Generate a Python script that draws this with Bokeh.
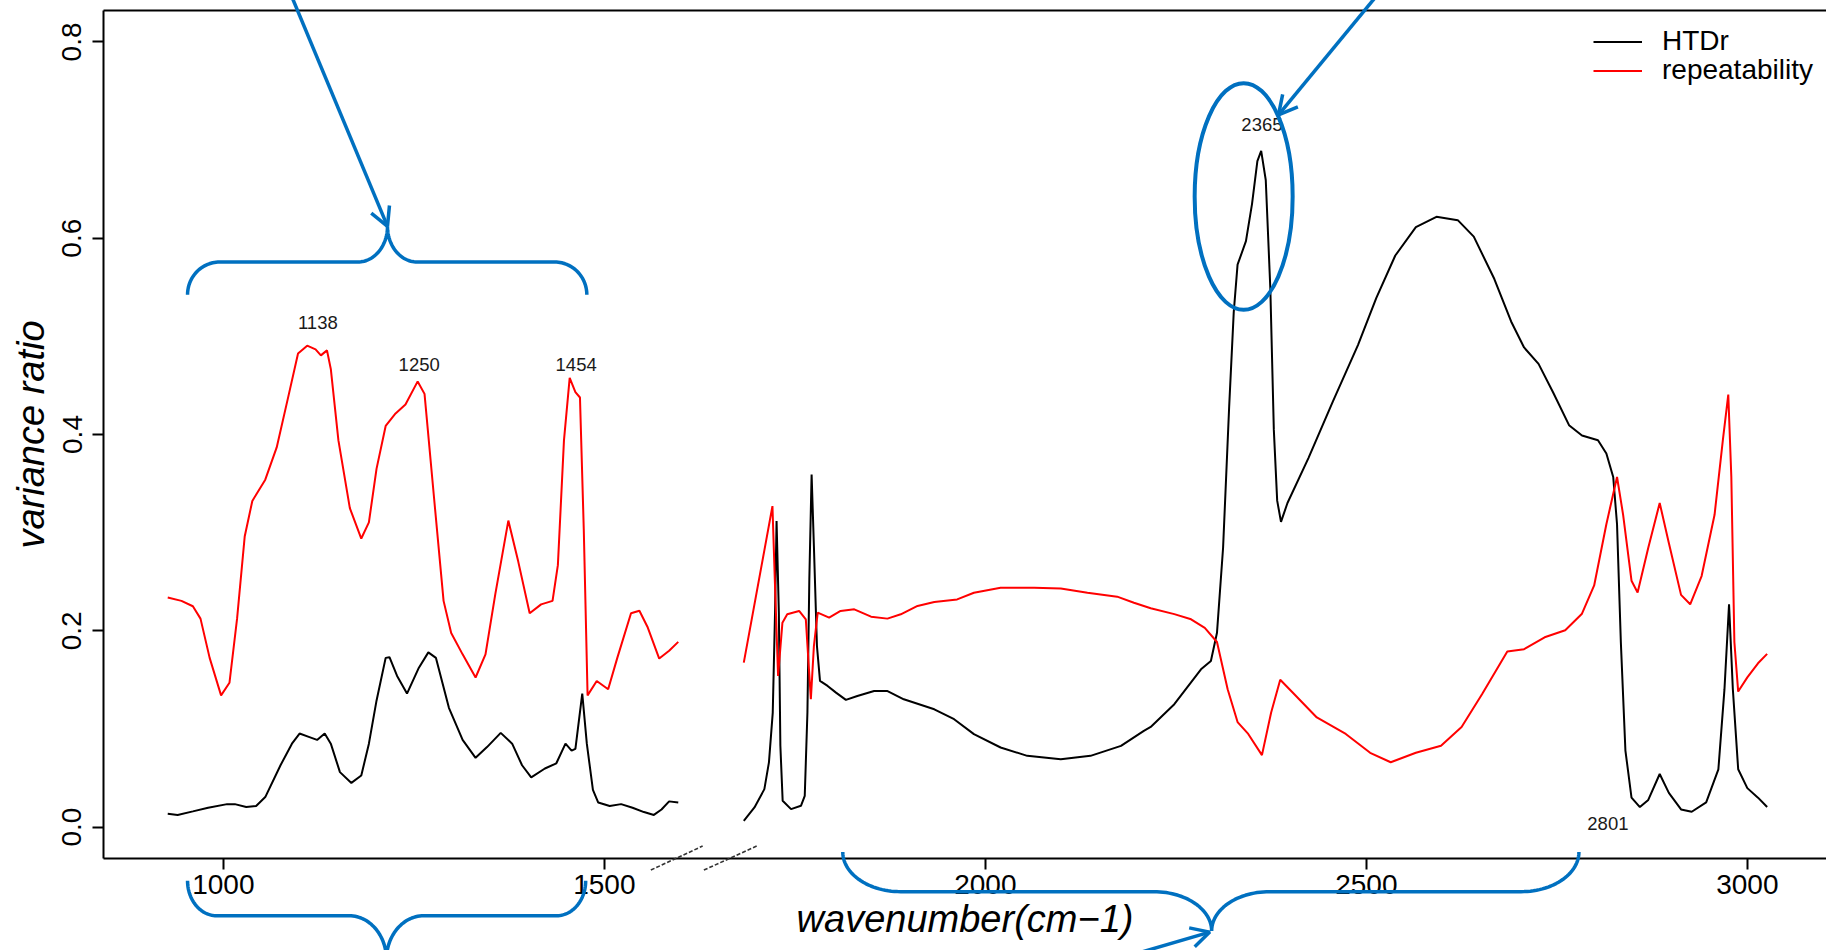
import numpy as np
from bokeh.plotting import figure
from bokeh.models import (Range1d, LinearAxis, FixedTicker, Legend, LegendItem,
                          PrintfTickFormatter)
from bokeh.embed import file_html
from bokeh.resources import INLINE
from bokeh.core.properties import value

nan = float("nan")

# ---------------- data ----------------
htdr_wn = [927, 940, 960, 980, 1005, 1015, 1030, 1043, 1055, 1075, 1090, 1100, 1113, 1123,
           1133, 1141, 1153, 1168, 1181, 1191, 1201, 1213, 1218, 1228, 1241, 1256, 1269, 1279,
           1296, 1314, 1331, 1346, 1364, 1379, 1392, 1404, 1422, 1437, 1449, 1457, 1462, 1471,
           1477, 1485, 1492, 1507, 1522, 1537, 1552, 1565, 1575, 1585, 1597,
           1640,
           1683, 1697, 1710, 1716, 1721, 1724, 1726, 1729, 1731, 1734, 1745, 1758, 1763, 1766.5,
           1769, 1772, 1775, 1779, 1783, 1793, 1804, 1817, 1832, 1854, 1871, 1893, 1933, 1959,
           1985, 2020, 2055, 2099, 2138, 2178, 2208, 2217, 2248, 2283, 2296, 2304, 2312, 2320,
           2326, 2331, 2342, 2350, 2357, 2362, 2368, 2374, 2378.6, 2383, 2388, 2396.5, 2424,
           2456, 2489, 2513, 2538, 2565, 2592, 2620, 2641, 2668, 2690, 2707, 2726, 2745, 2766,
           2783, 2804, 2815, 2824, 2829, 2834, 2840, 2848, 2859, 2870, 2885, 2897, 2913, 2927,
           2946, 2962, 2970, 2976, 2981, 2988, 3000, 3014, 3026]
htdr_val = [0.0135, 0.0124, 0.016, 0.0197, 0.0234, 0.0234, 0.0204, 0.0215, 0.0306, 0.063, 0.085,
            0.0953, 0.0917, 0.0888, 0.0953, 0.085, 0.056, 0.045, 0.0525, 0.085, 0.1288, 0.1724,
            0.1731, 0.154, 0.136, 0.1615, 0.178, 0.1724, 0.1215, 0.0888, 0.0706, 0.0815, 0.096,
            0.085, 0.063, 0.0506, 0.0597, 0.065, 0.085, 0.0779, 0.0797, 0.1361, 0.085, 0.0379,
            0.025, 0.0215, 0.0234, 0.0197, 0.0153, 0.0124, 0.0179, 0.0262, 0.0251,
            nan,
            0.0064, 0.0200, 0.0387, 0.066, 0.1167, 0.2185, 0.3118, 0.2185, 0.0828, 0.0268,
            0.0183, 0.0217, 0.0319, 0.1167, 0.2524, 0.3592, 0.2863, 0.1845, 0.1489, 0.1438,
            0.137, 0.1296, 0.1336, 0.1387, 0.1387, 0.1302, 0.12, 0.1099, 0.0947, 0.0811, 0.0726,
            0.0692, 0.0726, 0.0828, 0.0981, 0.102, 0.1252, 0.1608, 0.1693, 0.198, 0.2846,
            0.4287, 0.5248, 0.573, 0.597, 0.635, 0.6785, 0.689, 0.6593, 0.5488, 0.4047, 0.3326,
            0.311, 0.3302, 0.376, 0.4335, 0.4911, 0.539, 0.5824, 0.6112, 0.6218, 0.6184, 0.6016,
            0.5584, 0.5152, 0.4887, 0.472, 0.4431, 0.4095, 0.3989, 0.3941, 0.3807, 0.3567,
            0.3086, 0.1886, 0.078, 0.0301, 0.0204, 0.0277, 0.0541, 0.0349, 0.018, 0.0156,
            0.0252, 0.0589, 0.1405, 0.227, 0.1405, 0.0589, 0.0397, 0.03, 0.0204]

rep_wn = [927, 945, 960, 970, 982, 997, 1008, 1018, 1028, 1038, 1055, 1070, 1085, 1098, 1110,
          1121, 1128, 1136, 1141, 1151, 1166, 1181, 1191, 1201, 1213, 1226, 1239, 1255, 1264,
          1276, 1289, 1299, 1314, 1331, 1344, 1357, 1374, 1387, 1402, 1417, 1432, 1439, 1447,
          1454.5, 1462, 1468, 1473, 1478, 1490, 1505, 1517, 1535, 1546, 1557, 1572, 1585, 1597,
          1640,
          1683, 1720.6, 1723.7, 1728, 1733.7, 1740, 1755.6, 1764.4, 1771, 1775, 1780, 1795,
          1810, 1828, 1850, 1871.5, 1889, 1911, 1933, 1963, 1985, 2020, 2064, 2099, 2134, 2173,
          2195, 2217, 2248, 2270, 2288, 2304, 2318, 2331, 2345, 2363, 2375, 2387, 2402, 2435,
          2473, 2505, 2532, 2565, 2598, 2625, 2652, 2685, 2707, 2734, 2761, 2783, 2799, 2815,
          2829, 2837, 2848, 2856, 2870, 2885, 2897, 2913, 2925, 2940, 2957, 2968, 2975, 2979,
          2983, 2988, 3000, 3014, 3026]
rep_val = [0.234, 0.2305, 0.225, 0.2124, 0.1724, 0.1342, 0.147, 0.2124, 0.296, 0.3323, 0.354,
           0.3868, 0.4378, 0.4825, 0.4905, 0.4868, 0.4806, 0.4857, 0.4668, 0.394, 0.325, 0.294,
           0.3105, 0.365, 0.4087, 0.4214, 0.4305, 0.4541, 0.4414, 0.3396, 0.2305, 0.1978, 0.176,
           0.1524, 0.176, 0.2378, 0.3123, 0.2705, 0.2178, 0.2269, 0.2305, 0.2669, 0.394, 0.4577,
           0.4432, 0.4377, 0.3032, 0.1342, 0.1488, 0.1404, 0.1724, 0.2178, 0.2204, 0.2033,
           0.1717, 0.1796, 0.1887,
           nan,
           0.1676, 0.327, 0.2524, 0.154, 0.2083, 0.2168, 0.2202, 0.2117, 0.1303, 0.1845, 0.2185,
           0.2134, 0.2202, 0.2219, 0.2144, 0.2124, 0.2168, 0.2253, 0.2293, 0.232, 0.2388, 0.2439,
           0.2439, 0.2432, 0.2388, 0.2348, 0.2286, 0.223, 0.217, 0.2117, 0.203, 0.1886, 0.1405,
           0.107, 0.0949, 0.0733, 0.1165, 0.1501, 0.1381, 0.1117, 0.0949, 0.0757, 0.0661,
           0.0757, 0.0829, 0.102, 0.1357, 0.179, 0.1813, 0.1934, 0.2006, 0.2174, 0.2462, 0.3086,
           0.3567, 0.3182, 0.251, 0.239, 0.2846, 0.3302, 0.2894, 0.2366, 0.227, 0.2558, 0.3182,
           0.3951, 0.4407, 0.3567, 0.1886, 0.1381, 0.1525, 0.1669, 0.1765]

peak_text = ["1138", "1250", "1454", "2365", "2801"]
peak_x = [1124, 1257, 1463, 2363, 2817]
peak_y = [0.514, 0.471, 0.471, 0.716, 0.004]

x_ticks = [1000, 1500, 2000, 2500, 3000]
y_ticks = [0.0, 0.2, 0.4, 0.6, 0.8]
series_names = ["HTDr", "repeatability"]

# ---------------- styling ----------------
FONT = "Liberation Sans"
BLUE = "#0070C0"
W, H = 1826, 950
BL, BT, BB = 103, 10, 92
X0, X1 = 842.7, 3103.9
Y0, Y1 = -0.032, 0.832

p = figure(width=W, height=H, output_backend="svg", toolbar_location=None,
           x_range=Range1d(X0, X1), y_range=Range1d(Y0, Y1),
           min_border_left=BL, min_border_right=0, min_border_top=BT, min_border_bottom=BB,
           background_fill_color="white", border_fill_color="white")
p.outline_line_color = None
p.xgrid.visible = False
p.ygrid.visible = False

for ax in (p.xaxis[0], p.yaxis[0]):
    ax.axis_line_width = 2
    ax.major_tick_line_width = 2
    ax.major_tick_out = 11
    ax.major_tick_in = 0
    ax.minor_tick_line_color = None
    ax.major_label_text_font = FONT
    ax.major_label_text_font_size = "28px"
    ax.major_label_text_color = "black"
    ax.axis_label_text_font = FONT
    ax.axis_label_text_font_style = "italic"
    ax.axis_label_text_font_size = "38px"
    ax.axis_label_text_color = "black"

p.xaxis.ticker = FixedTicker(ticks=x_ticks)
p.yaxis.ticker = FixedTicker(ticks=y_ticks)
p.yaxis.formatter = PrintfTickFormatter(format="%.1f")
p.yaxis.major_label_orientation = "vertical"
p.xaxis.axis_label = "wavenumber(cm\u22121)"
p.yaxis.axis_label = "variance ratio"
p.xaxis.major_label_standoff = 5
p.xaxis.axis_label_standoff = 1
p.yaxis.major_label_standoff = 11
p.yaxis.axis_label_standoff = 8

top_axis = LinearAxis(ticker=FixedTicker(ticks=[]), axis_line_width=2,
                      major_tick_out=0, major_tick_in=0, minor_tick_line_color=None,
                      major_label_standoff=0, axis_label=None)
p.add_layout(top_axis, "above")

r_black = p.line(htdr_wn, htdr_val, line_color="black", line_width=2)
r_red = p.line(rep_wn, rep_val, line_color="red", line_width=2)

p.text(x=peak_x, y=peak_y, text=peak_text, text_align="center", text_baseline="middle",
       text_font=value(FONT), text_font_size=value("18.5px"), text_color="#1a1a1a")

legend_style = dict(orientation="vertical", border_line_color=None, background_fill_alpha=0,
                    padding=0, margin=0, glyph_width=49, glyph_height=29, label_height=29,
                    label_standoff=20, label_text_font=FONT, label_text_font_size="28px",
                    label_text_color="black")
legend1 = Legend(items=[LegendItem(label=series_names[0], renderers=[r_black])],
                 location=(1490, 801), **legend_style)
legend2 = Legend(items=[LegendItem(label=series_names[1], renderers=[r_red])],
                 location=(1490, 772), **legend_style)
p.add_layout(legend1)
p.add_layout(legend2)

# ---------------- blue hand-drawn style annotations ----------------
SX = (W - BL) / (X1 - X0)          # px per wavenumber unit
SY = (H - BT - BB) / (Y1 - Y0)     # px per variance-ratio unit

def brace(xl, xr, xt, ye, yb, yt, rx1, rx2, n=30):
    t = np.linspace(0, np.pi / 2, n)
    x1 = xl + rx1 - rx1 * np.cos(t); y1 = ye + (yb - ye) * np.sin(t)
    x2 = xt - rx2 + rx2 * np.sin(t); y2 = yt + (yb - yt) * np.cos(t)
    x3 = xt + rx2 - rx2 * np.cos(t); y3 = yt + (yb - yt) * np.sin(t)
    x4 = xr - rx1 + rx1 * np.sin(t); y4 = ye + (yb - ye) * np.cos(t)
    return np.concatenate([x1, x2, x3, x4]), np.concatenate([y1, y2, y3, y4])

for args in [(953, 1477, 1215.4, 0.5424, 0.5757, 0.612, 42, 39),
             (953, 1475.5, 1214, -0.0547, -0.0903, -0.135, 38, 49),
             (1812.9, 2779, 2297, -0.0254, -0.0658, -0.1058, 76, 76)]:
    bx, by = brace(*args)
    p.line(bx, by, line_color=BLUE, line_width=3.5, level="overlay")

p.ellipse(x=[2339], y=[0.6425], width=128.6, height=0.231, fill_color=None,
          line_color=BLUE, line_width=4)

def arrow(xs, ys, xe, ye, head=21, ang=np.radians(28)):
    d = np.arctan2((ys - ye) * SY, (xs - xe) * SX)
    ax1 = xe + head * np.cos(d + ang) / SX; ay1 = ye + head * np.sin(d + ang) / SY
    ax2 = xe + head * np.cos(d - ang) / SX; ay2 = ye + head * np.sin(d - ang) / SY
    return [[xs, xe], [ax1, xe, ax2]], [[ys, ye], [ay1, ye, ay2]]

for a in [(1085, 0.855, 1215.4, 0.612),
          (2522, 0.855, 2384.7, 0.7256),
          (2180, -0.133, 2294.5, -0.107)]:
    xs_, ys_ = arrow(*a)
    p.multi_line(xs_, ys_, line_color=BLUE, line_width=3.5, level="overlay")

# axis break marks
p.segment(x0=[1561, 1630.6], y0=[-0.0438, -0.0438], x1=[1629, 1700], y1=[-0.0193, -0.0193],
          line_color="#333333", line_width=1.6, line_dash="4 2", level="overlay")

open("out.html", "w").write(file_html(p, INLINE))
